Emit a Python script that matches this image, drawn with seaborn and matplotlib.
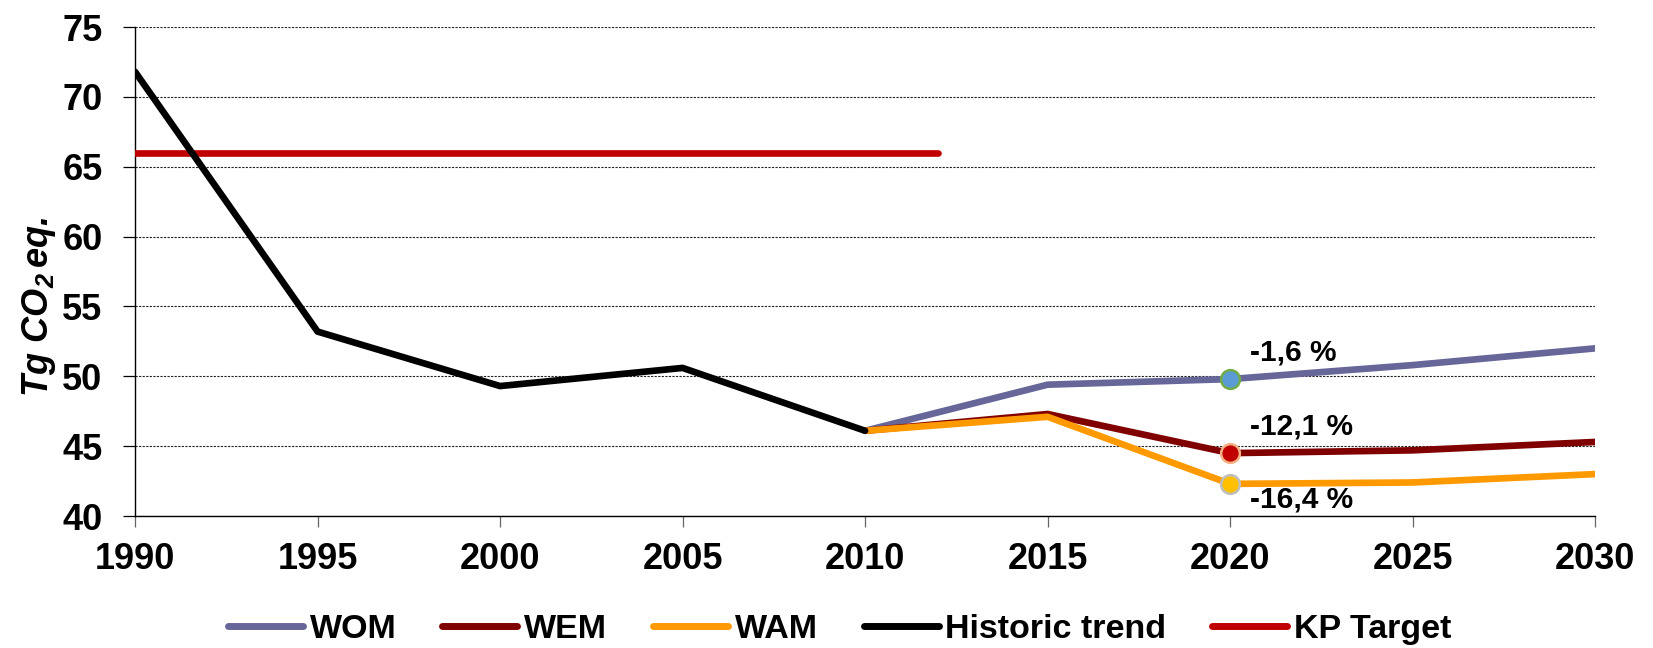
import matplotlib
matplotlib.use("Agg")
import matplotlib.pyplot as plt
import seaborn as sns
import pandas as pd

years_hist = [1990, 1995, 2000, 2005, 2010]
historic = [71.8, 53.2, 49.3, 50.6, 46.1]
years_proj = [2010, 2015, 2020, 2025, 2030]
wom = [46.1, 49.4, 49.8, 50.8, 52.0]
wem = [46.1, 47.3, 44.5, 44.7, 45.3]
wam = [46.1, 47.1, 42.3, 42.4, 43.0]
kp_years = [1990, 2012]
kp_target = [66.0, 66.0]
marker_year = 2020
labels_pct = ["-1,6 %", "-12,1 %", "-16,4 %"]
label_y = [51.7, 46.4, 41.15]

sns.set_style("white")
plt.rcParams['font.family'] = ['Liberation Sans', 'DejaVu Sans']
plt.rcParams.update({
    "text.color": "black", "axes.labelcolor": "black",
    "xtick.color": "black", "ytick.color": "black",
    "mathtext.fontset": "custom",
    "mathtext.rm": "Liberation Sans:bold:italic",
    "mathtext.it": "Liberation Sans:bold:italic",
    "mathtext.bf": "Liberation Sans:bold:italic",
})

fig = plt.figure(figsize=(16.53, 6.48), dpi=100)
ax = fig.add_axes([0.0817, 0.2037, 0.8833, 0.7546])

df = pd.concat([
    pd.DataFrame({"year": years_proj, "val": wom, "series": "WOM"}),
    pd.DataFrame({"year": years_proj, "val": wem, "series": "WEM"}),
    pd.DataFrame({"year": years_proj, "val": wam, "series": "WAM"}),
    pd.DataFrame({"year": years_hist, "val": historic, "series": "Historic trend"}),
    pd.DataFrame({"year": kp_years, "val": kp_target, "series": "KP Target"}),
])
palette = {"WOM": "#666699", "WEM": "#800000", "WAM": "#FF9900",
           "Historic trend": "#000000", "KP Target": "#C00000"}
order = ["WOM", "WEM", "WAM", "Historic trend", "KP Target"]
for s in order:
    d = df[df.series == s]
    sns.lineplot(data=d, x="year", y="val", ax=ax, color=palette[s], lw=4.8,
                 label=s, zorder=5 if s != "KP Target" else 4,
                 solid_capstyle="round", legend=True)

# markers at 2020
mk = [(wom, "#5B9BD5", "#70AD47"), (wem, "#C00000", "#F4B183"), (wam, "#FFC000", "#BFBFBF")]
idx = years_proj.index(marker_year)
for vals, fc, ec in mk:
    ax.plot([marker_year], [vals[idx]], "o", ms=13.5, mfc=fc, mec=ec, mew=1.8, zorder=7)
for t, yv in zip(labels_pct, label_y):
    ax.text(marker_year + 0.55, yv, t, fontsize=21.5, fontweight="bold", ha="left",
            va="center", zorder=8)

ax.set_xlim(1990, 2030)
ax.set_ylim(40, 75)
ax.set_xticks(range(1990, 2031, 5))
ax.set_yticks(range(40, 76, 5))
ax.yaxis.grid(True, ls=(0, (2, 1.2)), color="#222222", lw=0.8)
ax.xaxis.grid(False)
for sp in ["top", "right"]:
    ax.spines[sp].set_visible(False)
for sp in ["left", "bottom"]:
    ax.spines[sp].set_color("#000000")
    ax.spines[sp].set_linewidth(1.0)
ax.tick_params(axis="x", direction="out", length=8, width=0.9, color="#666666",
               labelsize=26, pad=11, bottom=True)
ax.tick_params(axis="y", direction="out", length=8.5, width=0.9, color="#000000",
               labelsize=26, pad=15, left=True)
for lab in ax.get_xticklabels() + ax.get_yticklabels():
    lab.set_fontweight("bold")
ax.set_xlabel("")
ax.set_ylabel(r"$Tg\ CO_2\,eq.$", fontsize=26)
ax.yaxis.set_label_coords(-0.053, 0.427)

ax.get_legend().remove()
handles, labels = ax.get_legend_handles_labels()
leg = fig.legend(handles, labels, loc="center", bbox_to_anchor=(0.508, 0.0293), ncol=5,
                 frameon=False, prop={"weight": "bold", "size": 24.5},
                 handlelength=2.2, columnspacing=1.35, handletextpad=0.2)
for h in leg.get_lines():
    h.set_linewidth(5)

fig.savefig("out.png", dpi=100)
